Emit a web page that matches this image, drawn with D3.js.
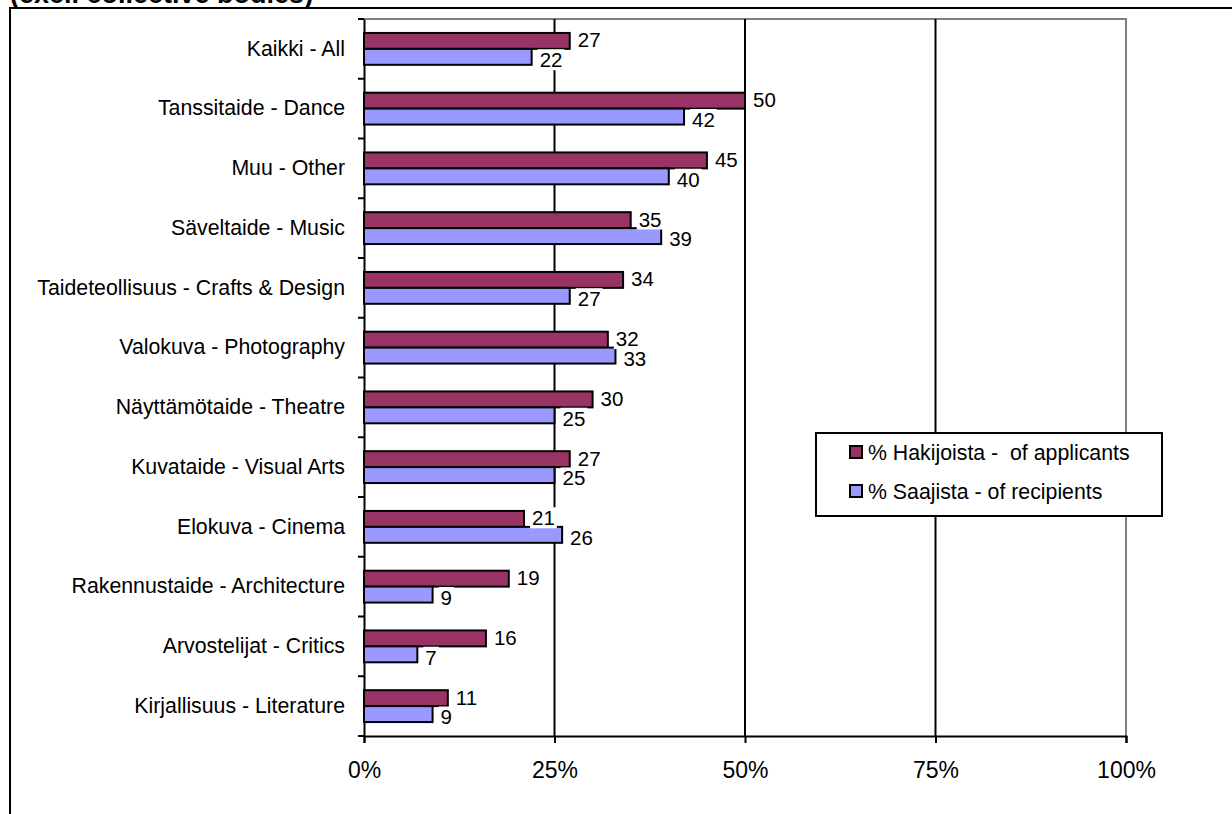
<!DOCTYPE html>
<html><head><meta charset="utf-8">
<script src="https://cdn.jsdelivr.net/npm/d3@7"></script>
<style>body{margin:0;background:#fff}svg{display:block}text{font-family:"Liberation Sans",Arial,sans-serif;fill:#000;white-space:pre}</style>
</head><body>
<svg id="c" width="1232" height="814"></svg>
<script>
const categories = ["Kaikki - All","Tanssitaide - Dance","Muu - Other","Säveltaide - Music","Taideteollisuus - Crafts & Design","Valokuva - Photography","Näyttämötaide - Theatre","Kuvataide - Visual Arts","Elokuva - Cinema","Rakennustaide - Architecture","Arvostelijat - Critics","Kirjallisuus - Literature"];
const applicants = [27,50,45,35,34,32,30,27,21,19,16,11];
const recipients = [22,42,40,39,27,33,25,25,26,9,7,9];
const seriesNames = ["% Hakijoista -  of applicants","% Saajista - of recipients"];
const seriesColors = ["#993366","#9999ff"];
const xTicks = [0,25,50,75,100];

const svg = d3.select("#c");
const L=364,R=1126,T=19,B=736;
const x = d3.scaleLinear().domain([0,100]).range([L,R]);
const y = d3.scaleBand().domain(categories).range([T,B]).paddingInner(0.4667).paddingOuter(0.2333);
const bh = y.bandwidth()/2;

// outer frame
svg.append("path").attr("d","M10,814V8H1232").attr("fill","none").attr("stroke","#000").attr("stroke-width",2);
svg.append("text").attr("x",10).attr("y",3).attr("font-size",27).attr("font-weight","bold").text("(excl. collective bodies)");

// plot border (gray)
svg.append("path").attr("d",`M${L},${T}H${R}V${B}`).attr("fill","none").attr("stroke","#808080").attr("stroke-width",2);
// gridlines
svg.append("g").selectAll("line").data(xTicks.filter(d=>d>0&&d<100)).join("line")
  .attr("x1",d=>x(d)).attr("x2",d=>x(d)).attr("y1",T).attr("y2",B).attr("stroke","#000").attr("stroke-width",2);

// x axis
const xa = svg.append("g").attr("transform",`translate(0,${B})`)
  .call(d3.axisBottom(x).tickValues(xTicks).tickFormat(d=>d+"%").tickSize(7).tickPadding(19));
xa.select(".domain").attr("stroke","#000").attr("stroke-width",2);
xa.selectAll(".tick line").attr("stroke","#000").attr("stroke-width",2);
xa.selectAll("text").attr("font-size",23).attr("font-family","Liberation Sans, Arial, sans-serif");

// y axis
const ya = svg.append("g").attr("transform",`translate(${L},0)`)
  .call(d3.axisLeft(y).tickSize(0).tickPadding(19));
ya.select(".domain").attr("stroke","#000").attr("stroke-width",2);
ya.selectAll("text").attr("font-size",21.3).attr("font-family","Liberation Sans, Arial, sans-serif");
// category boundary ticks
const bounds = d3.range(categories.length+1).map(i=>T+i*(B-T)/categories.length);
svg.append("g").selectAll("line").data(bounds).join("line")
  .attr("x1",L-6).attr("x2",L).attr("y1",d=>d).attr("y2",d=>d).attr("stroke","#000").attr("stroke-width",2);

// bars
const series=[applicants,recipients];
series.forEach((vals,si)=>{
  svg.append("g").selectAll("rect").data(vals).join("rect")
    .attr("x",L).attr("y",(d,i)=>y(categories[i])+si*bh)
    .attr("width",d=>x(d)-L).attr("height",bh)
    .attr("fill",seriesColors[si]).attr("stroke","#000").attr("stroke-width",2);
});
// labels
series.forEach((vals,si)=>{
  const g=svg.append("g");
  vals.forEach((d,i)=>{
    const cy=y(categories[i])+si*bh+bh/2+(si?3:-1);
    const tx=x(d)+8;
    const t=g.append("text").attr("x",tx).attr("y",cy).attr("dy","0.36em").attr("font-size",20.5).text(d);
    const bb=t.node().getBBox();
    g.insert("rect","text").attr("x",bb.x-2).attr("y",bb.y+1).attr("width",bb.width+4).attr("height",bb.height-2).attr("fill","#fff");
  });
});

// legend
const lg=svg.append("g");
lg.append("rect").attr("x",816).attr("y",433).attr("width",346).attr("height",83).attr("fill","#fff").attr("stroke","#000").attr("stroke-width",2);
seriesNames.forEach((n,i)=>{
  const cy=452+i*39;
  lg.append("rect").attr("x",850).attr("y",cy-6).attr("width",12).attr("height",12).attr("fill",seriesColors[i]).attr("stroke","#000").attr("stroke-width",2);
  lg.append("text").attr("x",868).attr("y",cy).attr("dy","0.36em").attr("font-size",21.3).text(n);
});
</script>
</body></html>
